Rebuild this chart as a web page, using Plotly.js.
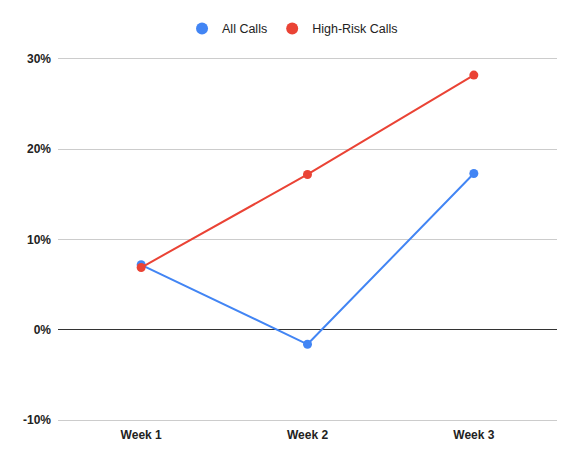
<!DOCTYPE html>
<html>
<head>
<meta charset="utf-8">
<script src="https://cdn.plot.ly/plotly-3.0.1.min.js"></script>
<style>html,body{margin:0;padding:0;background:#fff}#chart{width:581px;height:464px}</style>
</head>
<body>
<div id="chart"></div>
<script>
const weeks = ["Week 1", "Week 2", "Week 3"];
const allCalls = [0.072, -0.016, 0.173];
const highRiskCalls = [0.069, 0.172, 0.282];
const yTicks = [-0.1, 0, 0.1, 0.2, 0.3];
const yTickLabels = ["-10%", "0%", "10%", "20%", "30%"];
const seriesNames = ["All Calls", "High-Risk Calls"];
const seriesColors = ["#4285F4", "#EA4335"];

const fam = "Liberation Sans, Arial, sans-serif";
const traces = [
  {x: weeks, y: allCalls, name: seriesNames[0], type: "scatter", mode: "lines+markers", showlegend: false,
   line: {color: seriesColors[0], width: 2}, marker: {color: seriesColors[0], size: 9}},
  {x: weeks, y: highRiskCalls, name: seriesNames[1], type: "scatter", mode: "lines+markers", showlegend: false,
   line: {color: seriesColors[1], width: 2}, marker: {color: seriesColors[1], size: 9}},
  {x: [null], y: [null], name: seriesNames[0], type: "scatter", mode: "markers",
   marker: {color: seriesColors[0], size: 12}},
  {x: [null], y: [null], name: seriesNames[1], type: "scatter", mode: "markers",
   marker: {color: seriesColors[1], size: 12}}
];
const layout = {
  width: 581, height: 464,
  margin: {l: 58, r: 24, t: 57, b: 42},
  paper_bgcolor: "#fff", plot_bgcolor: "#fff",
  font: {family: fam, size: 12, color: "#222"},
  showlegend: true,
  legend: {orientation: "h", x: 0.47, xanchor: "center", y: 1.077, yanchor: "middle",
           itemwidth: 30, font: {family: fam, size: 12.5, color: "#222"}},
  xaxis: {type: "category", range: [-0.5, 2.5], showgrid: false, zeroline: false, showline: false,
          ticks: "", ticklabelstandoff: 4,
          tickfont: {family: fam, size: 12, color: "#222", weight: "bold"}},
  yaxis: {range: [-0.102, 0.302], tickvals: yTicks, ticktext: yTickLabels, showgrid: true, gridcolor: "#cccccc", gridwidth: 1,
          zeroline: true, zerolinecolor: "#333", zerolinewidth: 1, showline: false, ticks: "", ticklabelstandoff: 6,
          tickfont: {family: fam, size: 12, color: "#222", weight: "bold"}}
};
Plotly.newPlot("chart", traces, layout, {displayModeBar: false, staticPlot: true});
</script>
</body>
</html>
